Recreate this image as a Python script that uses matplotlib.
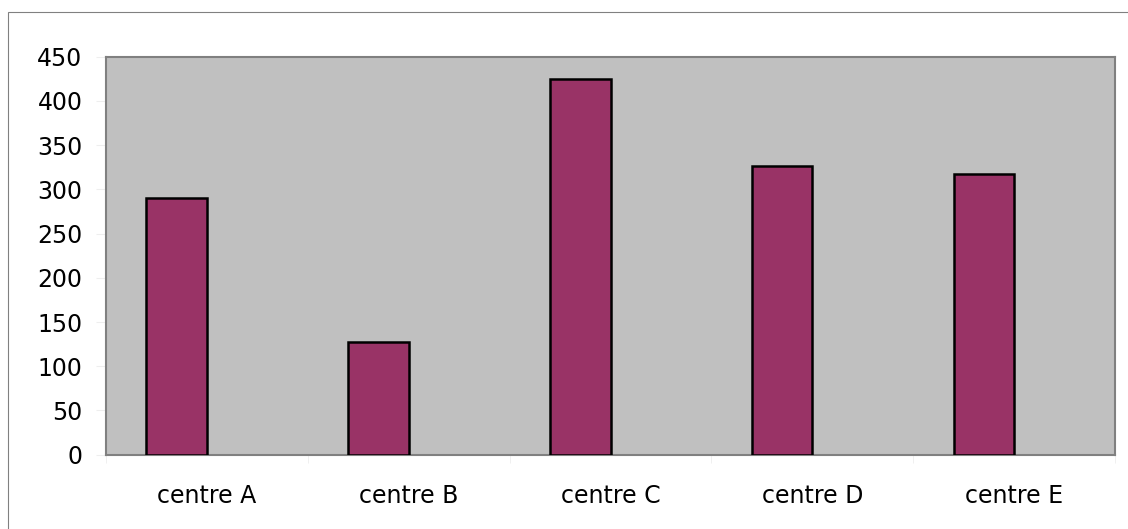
import matplotlib
matplotlib.use("Agg")
import matplotlib.pyplot as plt
from matplotlib.patches import Rectangle
import numpy as np

categories = ["centre A", "centre B", "centre C", "centre D", "centre E"]
values = [290, 127, 425, 326, 317]
y_ticks = [0, 50, 100, 150, 200, 250, 300, 350, 400, 450]

W, H = 1128, 529
fig = plt.figure(figsize=(W / 100, H / 100), dpi=100)
fig.patch.set_facecolor("white")

# outer chart frame (runs off the right and bottom edges)
fig.patches.append(Rectangle((7.5 / W, -0.1), 2.0, 1.1 - 12 / H,
                             transform=fig.transFigure, fill=False,
                             edgecolor="#808080", linewidth=0.8))

ax = fig.add_axes([106 / W, (H - 454.7) / H, 1009 / W, 398 / H])
ax.set_facecolor("#C0C0C0")

x = np.arange(len(categories))
ax.bar(x, values, width=-0.3, align="edge", color="#993366",
       edgecolor="black", linewidth=1.8, zorder=3)

ax.set_xlim(-0.5, len(categories) - 0.5)
ax.set_ylim(0, 450)
ax.set_yticks(y_ticks)
ax.set_yticklabels([str(v) for v in y_ticks])
ax.set_xticks(x)
ax.set_xticklabels(categories)
ax.set_xticks(np.arange(-0.5, len(categories)), minor=True)

for s in ax.spines.values():
    s.set_color("#808080")
    s.set_linewidth(1.5)

ax.tick_params(axis="y", which="major", direction="out", length=7,
               color="#eeeeee", pad=10, labelsize=17)
ax.tick_params(axis="x", which="major", length=0, pad=21, labelsize=17)
ax.tick_params(axis="x", which="minor", direction="out", length=6,
               color="#eeeeee")
for lbl in ax.get_xticklabels() + ax.get_yticklabels():
    lbl.set_family("DejaVu Sans")
    lbl.set_color("black")

fig.savefig("out.png", dpi=100, facecolor="white")
